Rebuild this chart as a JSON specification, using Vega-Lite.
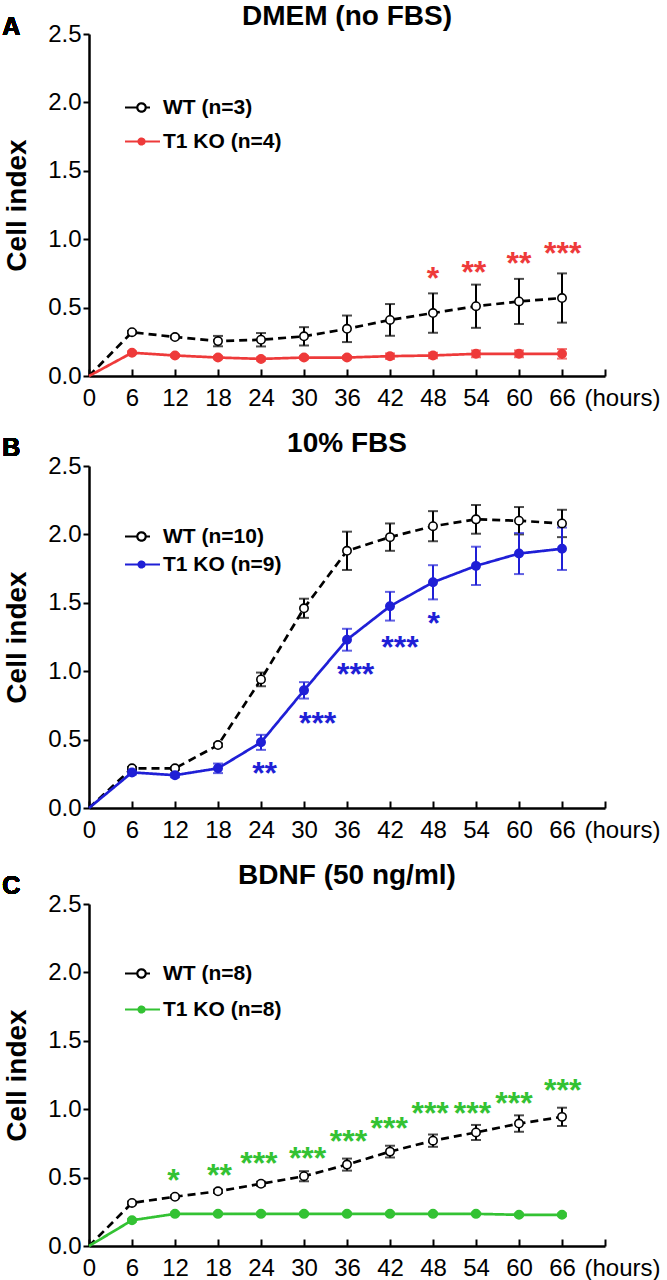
{
  "$schema": "https://vega.github.io/schema/vega-lite/v6.json",
  "padding": {"left": 2, "top": 3, "right": 2, "bottom": 2},
  "background": "white",
  "config": {
    "view": {"stroke": null},
    "axis": {
      "domainColor": "black", "domainWidth": 2.5, "tickColor": "black", "tickWidth": 2,
      "grid": false, "labelFont": "Liberation Sans", "labelFontSize": 24, "labelColor": "black",
      "labelFlush": false, "labelOverlap": false,
      "titleColor": "black"
    },
    "legend": {
      "orient": "none", "direction": "vertical", "title": null, "symbolSize": 400,
      "labelFont": "Liberation Sans", "labelFontWeight": "bold", "labelFontSize": 21, "labelColor": "black",
      "labelOffset": 10, "padding": 0, "symbolStrokeWidth": 2.2, "symbolOpacity": 1,
      "symbolFillColor": "white", "symbolDash": [1, 0]
    }
  },
  "datasets": {
    "A": [
      {"hour": 0, "series": "WT (n=3)", "mean": 0, "err": 0},
      {"hour": 6, "series": "WT (n=3)", "mean": 0.32, "err": 0.01},
      {"hour": 12, "series": "WT (n=3)", "mean": 0.285, "err": 0.01},
      {"hour": 18, "series": "WT (n=3)", "mean": 0.255, "err": 0.038},
      {"hour": 24, "series": "WT (n=3)", "mean": 0.265, "err": 0.049},
      {"hour": 30, "series": "WT (n=3)", "mean": 0.29, "err": 0.067},
      {"hour": 36, "series": "WT (n=3)", "mean": 0.345, "err": 0.097},
      {"hour": 42, "series": "WT (n=3)", "mean": 0.41, "err": 0.116},
      {"hour": 48, "series": "WT (n=3)", "mean": 0.46, "err": 0.144},
      {"hour": 54, "series": "WT (n=3)", "mean": 0.51, "err": 0.158},
      {"hour": 60, "series": "WT (n=3)", "mean": 0.545, "err": 0.165},
      {"hour": 66, "series": "WT (n=3)", "mean": 0.57, "err": 0.18},
      {"hour": 0, "series": "T1 KO (n=4)", "mean": 0, "err": 0},
      {"hour": 6, "series": "T1 KO (n=4)", "mean": 0.17, "err": 0.01},
      {"hour": 12, "series": "T1 KO (n=4)", "mean": 0.15, "err": 0.01},
      {"hour": 18, "series": "T1 KO (n=4)", "mean": 0.135, "err": 0.012},
      {"hour": 24, "series": "T1 KO (n=4)", "mean": 0.125, "err": 0.012},
      {"hour": 30, "series": "T1 KO (n=4)", "mean": 0.135, "err": 0.012},
      {"hour": 36, "series": "T1 KO (n=4)", "mean": 0.135, "err": 0.012},
      {"hour": 42, "series": "T1 KO (n=4)", "mean": 0.145, "err": 0.02},
      {"hour": 48, "series": "T1 KO (n=4)", "mean": 0.15, "err": 0.02},
      {"hour": 54, "series": "T1 KO (n=4)", "mean": 0.162, "err": 0.025},
      {"hour": 60, "series": "T1 KO (n=4)", "mean": 0.162, "err": 0.025},
      {"hour": 66, "series": "T1 KO (n=4)", "mean": 0.162, "err": 0.035}
    ],
    "B": [
      {"hour": 0, "series": "WT (n=10)", "mean": 0, "err": 0},
      {"hour": 6, "series": "WT (n=10)", "mean": 0.29, "err": 0.01},
      {"hour": 12, "series": "WT (n=10)", "mean": 0.29, "err": 0.01},
      {"hour": 18, "series": "WT (n=10)", "mean": 0.46, "err": 0.012},
      {"hour": 24, "series": "WT (n=10)", "mean": 0.94, "err": 0.05},
      {"hour": 30, "series": "WT (n=10)", "mean": 1.46, "err": 0.07},
      {"hour": 36, "series": "WT (n=10)", "mean": 1.88, "err": 0.14},
      {"hour": 42, "series": "WT (n=10)", "mean": 1.98, "err": 0.1},
      {"hour": 48, "series": "WT (n=10)", "mean": 2.06, "err": 0.11},
      {"hour": 54, "series": "WT (n=10)", "mean": 2.11, "err": 0.105},
      {"hour": 60, "series": "WT (n=10)", "mean": 2.1, "err": 0.1},
      {"hour": 66, "series": "WT (n=10)", "mean": 2.08, "err": 0.1},
      {"hour": 0, "series": "T1 KO (n=9)", "mean": 0, "err": 0},
      {"hour": 6, "series": "T1 KO (n=9)", "mean": 0.26, "err": 0.015},
      {"hour": 12, "series": "T1 KO (n=9)", "mean": 0.24, "err": 0.015},
      {"hour": 18, "series": "T1 KO (n=9)", "mean": 0.29, "err": 0.035},
      {"hour": 24, "series": "T1 KO (n=9)", "mean": 0.48, "err": 0.055},
      {"hour": 30, "series": "T1 KO (n=9)", "mean": 0.86, "err": 0.06},
      {"hour": 36, "series": "T1 KO (n=9)", "mean": 1.23, "err": 0.08},
      {"hour": 42, "series": "T1 KO (n=9)", "mean": 1.475, "err": 0.105},
      {"hour": 48, "series": "T1 KO (n=9)", "mean": 1.65, "err": 0.125},
      {"hour": 54, "series": "T1 KO (n=9)", "mean": 1.77, "err": 0.14},
      {"hour": 60, "series": "T1 KO (n=9)", "mean": 1.86, "err": 0.15},
      {"hour": 66, "series": "T1 KO (n=9)", "mean": 1.895, "err": 0.155}
    ],
    "C": [
      {"hour": 0, "series": "WT (n=8)", "mean": 0, "err": 0},
      {"hour": 6, "series": "WT (n=8)", "mean": 0.315, "err": 0.01},
      {"hour": 12, "series": "WT (n=8)", "mean": 0.36, "err": 0.01},
      {"hour": 18, "series": "WT (n=8)", "mean": 0.4, "err": 0.012},
      {"hour": 24, "series": "WT (n=8)", "mean": 0.455, "err": 0.015},
      {"hour": 30, "series": "WT (n=8)", "mean": 0.51, "err": 0.037},
      {"hour": 36, "series": "WT (n=8)", "mean": 0.595, "err": 0.044},
      {"hour": 42, "series": "WT (n=8)", "mean": 0.69, "err": 0.043},
      {"hour": 48, "series": "WT (n=8)", "mean": 0.77, "err": 0.045},
      {"hour": 54, "series": "WT (n=8)", "mean": 0.83, "err": 0.055},
      {"hour": 60, "series": "WT (n=8)", "mean": 0.895, "err": 0.06},
      {"hour": 66, "series": "WT (n=8)", "mean": 0.944, "err": 0.067},
      {"hour": 0, "series": "T1 KO (n=8)", "mean": 0, "err": 0},
      {"hour": 6, "series": "T1 KO (n=8)", "mean": 0.188, "err": 0.01},
      {"hour": 12, "series": "T1 KO (n=8)", "mean": 0.235, "err": 0.01},
      {"hour": 18, "series": "T1 KO (n=8)", "mean": 0.235, "err": 0.01},
      {"hour": 24, "series": "T1 KO (n=8)", "mean": 0.235, "err": 0.01},
      {"hour": 30, "series": "T1 KO (n=8)", "mean": 0.235, "err": 0.01},
      {"hour": 36, "series": "T1 KO (n=8)", "mean": 0.235, "err": 0.01},
      {"hour": 42, "series": "T1 KO (n=8)", "mean": 0.235, "err": 0.01},
      {"hour": 48, "series": "T1 KO (n=8)", "mean": 0.235, "err": 0.01},
      {"hour": 54, "series": "T1 KO (n=8)", "mean": 0.235, "err": 0.01},
      {"hour": 60, "series": "T1 KO (n=8)", "mean": 0.228, "err": 0.01},
      {"hour": 66, "series": "T1 KO (n=8)", "mean": 0.228, "err": 0.01}
    ],
    "starsA": [
      {"hour": 48, "level": 0.77, "label": "*"},
      {"hour": 53.7, "level": 0.815, "label": "**"},
      {"hour": 60, "level": 0.876, "label": "**"},
      {"hour": 66.1, "level": 0.95, "label": "***"}
    ],
    "starsB": [
      {"hour": 24.5, "level": 0.31, "label": "**"},
      {"hour": 31.9, "level": 0.67, "label": "***"},
      {"hour": 37.2, "level": 1.03, "label": "***"},
      {"hour": 43.4, "level": 1.23, "label": "***"},
      {"hour": 48.1, "level": 1.4, "label": "*"}
    ],
    "starsC": [
      {"hour": 11.8, "level": 0.536, "label": "*"},
      {"hour": 18.2, "level": 0.568, "label": "**"},
      {"hour": 23.7, "level": 0.658, "label": "***"},
      {"hour": 30.5, "level": 0.695, "label": "***"},
      {"hour": 36.2, "level": 0.817, "label": "***"},
      {"hour": 41.9, "level": 0.914, "label": "***"},
      {"hour": 47.6, "level": 1.024, "label": "***"},
      {"hour": 53.5, "level": 1.024, "label": "***"},
      {"hour": 59.3, "level": 1.097, "label": "***"},
      {"hour": 66.1, "level": 1.19, "label": "***"}
    ]
  },
  "vconcat": [
    {
      "width": 516, "height": 342,
      "title": {"text": "DMEM (no FBS)", "font": "Liberation Sans", "fontSize": 28, "fontWeight": "bold", "color": "black", "anchor": "middle", "frame": "group", "offset": -16},
      "data": {"name": "A"},
      "layer": [
        {
          "mark": {"type": "line", "strokeWidth": 2.7},
          "encoding": {
            "x": {"field": "hour", "type": "quantitative", "scale": {"domain": [0, 72], "nice": false},
              "axis": {"values": [0, 6, 12, 18, 24, 30, 36, 42, 48, 54, 60, 66, 72], "labelExpr": "datum.value == 72 ? '' : datum.label", "tickSize": -7, "labelPadding": 36, "labelBaseline": "alphabetic", "title": "(hours)", "titleFont": "Liberation Sans", "titleFontSize": 24, "titleFontWeight": "normal", "titleAlign": "left", "titleBaseline": "alphabetic", "titleX": 495, "titleY": 29}},
            "y": {"field": "mean", "type": "quantitative", "title": "Cell index", "scale": {"domain": [0, 2.5], "nice": false},
              "axis": {"values": [0, 0.5, 1, 1.5, 2, 2.5], "format": ".1f", "tickSize": 6, "labelPadding": 2, "titleFont": "Liberation Sans", "titleFontSize": 28, "titleFontWeight": "bold", "titlePadding": 16}},
            "color": {"field": "series", "type": "nominal", "scale": {"domain": ["WT (n=3)", "T1 KO (n=4)"], "range": ["black", "#ee3a3a"]},
              "legend": {"legendX": 41, "legendY": 62, "rowPadding": 12,
                "encode": {"symbols": {"update": {
                  "shape": {"signal": "indexof(datum.value, 'WT') == 0 ? 'M-1.65,0L-0.45,0M0.45,0L0.85,0M-0.42,0A0.42,0.42,0,1,1,0.42,0A0.42,0.42,0,1,1,-0.42,0Z' : 'M-1.65,0L1.85,0M-0.3,0A0.3,0.3,0,1,1,0.3,0A0.3,0.3,0,1,1,-0.3,0M-0.12,0A0.12,0.12,0,1,1,0.12,0A0.12,0.12,0,1,1,-0.12,0'"},
                  "fill": {"value": "white"},
                  "strokeDash": {"value": [1, 0]}
                }}}}},
            "strokeDash": {"condition": {"test": "indexof(datum.series, 'WT') == 0", "value": [8, 5]}, "value": [1, 0]}
          }
        },
        {
          "transform": [{"filter": "datum.hour > 0"}],
          "mark": {"type": "errorbar", "thickness": 2, "ticks": {"size": 10}},
          "encoding": {
            "x": {"field": "hour", "type": "quantitative"},
            "y": {"field": "mean", "type": "quantitative", "title": "Cell index"},
            "yError": {"field": "err"},
            "color": {"condition": {"test": "indexof(datum.series, 'WT') == 0", "value": "black"}, "value": "#ee3a3a"}
          }
        },
        {
          "transform": [{"filter": "datum.hour > 0"}],
          "mark": {"type": "point", "shape": "circle", "filled": true, "size": 70, "strokeWidth": 1.6, "opacity": 1},
          "encoding": {
            "x": {"field": "hour", "type": "quantitative"},
            "y": {"field": "mean", "type": "quantitative", "title": "Cell index"},
            "fill": {"condition": {"test": "indexof(datum.series, 'WT') == 0", "value": "white"}, "value": "#ee3a3a"},
            "stroke": {"condition": {"test": "indexof(datum.series, 'WT') == 0", "value": "black"}, "value": "#ee3a3a"}
          }
        },
        {
          "data": {"name": "starsA"},
          "mark": {"type": "text", "font": "Liberation Sans", "fontWeight": "bold", "fontSize": 32, "color": "#ee3a3a", "dy": 18, "baseline": "alphabetic", "align": "center"},
          "encoding": {
            "x": {"field": "hour", "type": "quantitative"},
            "y": {"field": "level", "type": "quantitative", "title": "Cell index"},
            "text": {"field": "label"}
          }
        },
        {
          "mark": {"type": "text", "text": "A", "font": "Liberation Sans", "fontWeight": "bold", "fontSize": 25, "color": "black", "align": "center", "baseline": "alphabetic"},
          "encoding": {"x": {"datum": -10.85}, "y": {"datum": 2.49}}
        }
      ]
    },
    {
      "width": 516, "height": 342,
      "title": {"text": "10% FBS", "font": "Liberation Sans", "fontSize": 28, "fontWeight": "bold", "color": "black", "anchor": "middle", "frame": "group", "offset": -22},
      "data": {"name": "B"},
      "layer": [
        {
          "mark": {"type": "line", "strokeWidth": 2.7},
          "encoding": {
            "x": {"field": "hour", "type": "quantitative", "scale": {"domain": [0, 72], "nice": false},
              "axis": {"values": [0, 6, 12, 18, 24, 30, 36, 42, 48, 54, 60, 66, 72], "labelExpr": "datum.value == 72 ? '' : datum.label", "tickSize": -7, "labelPadding": 36, "labelBaseline": "alphabetic", "title": "(hours)", "titleFont": "Liberation Sans", "titleFontSize": 24, "titleFontWeight": "normal", "titleAlign": "left", "titleBaseline": "alphabetic", "titleX": 495, "titleY": 29}},
            "y": {"field": "mean", "type": "quantitative", "title": "Cell index", "scale": {"domain": [0, 2.5], "nice": false},
              "axis": {"values": [0, 0.5, 1, 1.5, 2, 2.5], "format": ".1f", "tickSize": 6, "labelPadding": 2, "titleFont": "Liberation Sans", "titleFontSize": 28, "titleFontWeight": "bold", "titlePadding": 16}},
            "color": {"field": "series", "type": "nominal", "scale": {"domain": ["WT (n=10)", "T1 KO (n=9)"], "range": ["black", "#1f1fd6"]},
              "legend": {"legendX": 41, "legendY": 59, "rowPadding": 6,
                "encode": {"symbols": {"update": {
                  "shape": {"signal": "indexof(datum.value, 'WT') == 0 ? 'M-1.65,0L-0.45,0M0.45,0L0.85,0M-0.42,0A0.42,0.42,0,1,1,0.42,0A0.42,0.42,0,1,1,-0.42,0Z' : 'M-1.65,0L1.85,0M-0.3,0A0.3,0.3,0,1,1,0.3,0A0.3,0.3,0,1,1,-0.3,0M-0.12,0A0.12,0.12,0,1,1,0.12,0A0.12,0.12,0,1,1,-0.12,0'"},
                  "fill": {"value": "white"},
                  "strokeDash": {"value": [1, 0]}
                }}}}},
            "strokeDash": {"condition": {"test": "indexof(datum.series, 'WT') == 0", "value": [8, 5]}, "value": [1, 0]}
          }
        },
        {
          "transform": [{"filter": "datum.hour > 0"}],
          "mark": {"type": "errorbar", "thickness": 2, "ticks": {"size": 10}},
          "encoding": {
            "x": {"field": "hour", "type": "quantitative"},
            "y": {"field": "mean", "type": "quantitative", "title": "Cell index"},
            "yError": {"field": "err"},
            "color": {"condition": {"test": "indexof(datum.series, 'WT') == 0", "value": "black"}, "value": "#1f1fd6"}
          }
        },
        {
          "transform": [{"filter": "datum.hour > 0"}],
          "mark": {"type": "point", "shape": "circle", "filled": true, "size": 70, "strokeWidth": 1.6, "opacity": 1},
          "encoding": {
            "x": {"field": "hour", "type": "quantitative"},
            "y": {"field": "mean", "type": "quantitative", "title": "Cell index"},
            "fill": {"condition": {"test": "indexof(datum.series, 'WT') == 0", "value": "white"}, "value": "#1f1fd6"},
            "stroke": {"condition": {"test": "indexof(datum.series, 'WT') == 0", "value": "black"}, "value": "#1f1fd6"}
          }
        },
        {
          "data": {"name": "starsB"},
          "mark": {"type": "text", "font": "Liberation Sans", "fontWeight": "bold", "fontSize": 32, "color": "#1f1fd6", "dy": 18, "baseline": "alphabetic", "align": "center"},
          "encoding": {
            "x": {"field": "hour", "type": "quantitative"},
            "y": {"field": "level", "type": "quantitative", "title": "Cell index"},
            "text": {"field": "label"}
          }
        },
        {
          "mark": {"type": "text", "text": "B", "font": "Liberation Sans", "fontWeight": "bold", "fontSize": 25, "color": "black", "align": "center", "baseline": "alphabetic"},
          "encoding": {"x": {"datum": -10.85}, "y": {"datum": 2.573}}
        }
      ]
    },
    {
      "width": 516, "height": 342,
      "title": {"text": "BDNF (50 ng/ml)", "font": "Liberation Sans", "fontSize": 28, "fontWeight": "bold", "color": "black", "anchor": "middle", "frame": "group", "offset": -16},
      "data": {"name": "C"},
      "layer": [
        {
          "mark": {"type": "line", "strokeWidth": 2.7},
          "encoding": {
            "x": {"field": "hour", "type": "quantitative", "scale": {"domain": [0, 72], "nice": false},
              "axis": {"values": [0, 6, 12, 18, 24, 30, 36, 42, 48, 54, 60, 66, 72], "labelExpr": "datum.value == 72 ? '' : datum.label", "tickSize": -7, "labelPadding": 36, "labelBaseline": "alphabetic", "title": "(hours)", "titleFont": "Liberation Sans", "titleFontSize": 24, "titleFontWeight": "normal", "titleAlign": "left", "titleBaseline": "alphabetic", "titleX": 495, "titleY": 29}},
            "y": {"field": "mean", "type": "quantitative", "title": "Cell index", "scale": {"domain": [0, 2.5], "nice": false},
              "axis": {"values": [0, 0.5, 1, 1.5, 2, 2.5], "format": ".1f", "tickSize": 6, "labelPadding": 2, "titleFont": "Liberation Sans", "titleFontSize": 28, "titleFontWeight": "bold", "titlePadding": 16}},
            "color": {"field": "series", "type": "nominal", "scale": {"domain": ["WT (n=8)", "T1 KO (n=8)"], "range": ["black", "#33c233"]},
              "legend": {"legendX": 41, "legendY": 58, "rowPadding": 14,
                "encode": {"symbols": {"update": {
                  "shape": {"signal": "indexof(datum.value, 'WT') == 0 ? 'M-1.65,0L-0.45,0M0.45,0L0.85,0M-0.42,0A0.42,0.42,0,1,1,0.42,0A0.42,0.42,0,1,1,-0.42,0Z' : 'M-1.65,0L1.85,0M-0.3,0A0.3,0.3,0,1,1,0.3,0A0.3,0.3,0,1,1,-0.3,0M-0.12,0A0.12,0.12,0,1,1,0.12,0A0.12,0.12,0,1,1,-0.12,0'"},
                  "fill": {"value": "white"},
                  "strokeDash": {"value": [1, 0]}
                }}}}},
            "strokeDash": {"condition": {"test": "indexof(datum.series, 'WT') == 0", "value": [8, 5]}, "value": [1, 0]}
          }
        },
        {
          "transform": [{"filter": "datum.hour > 0"}],
          "mark": {"type": "errorbar", "thickness": 2, "ticks": {"size": 10}},
          "encoding": {
            "x": {"field": "hour", "type": "quantitative"},
            "y": {"field": "mean", "type": "quantitative", "title": "Cell index"},
            "yError": {"field": "err"},
            "color": {"condition": {"test": "indexof(datum.series, 'WT') == 0", "value": "black"}, "value": "#33c233"}
          }
        },
        {
          "transform": [{"filter": "datum.hour > 0"}],
          "mark": {"type": "point", "shape": "circle", "filled": true, "size": 70, "strokeWidth": 1.6, "opacity": 1},
          "encoding": {
            "x": {"field": "hour", "type": "quantitative"},
            "y": {"field": "mean", "type": "quantitative", "title": "Cell index"},
            "fill": {"condition": {"test": "indexof(datum.series, 'WT') == 0", "value": "white"}, "value": "#33c233"},
            "stroke": {"condition": {"test": "indexof(datum.series, 'WT') == 0", "value": "black"}, "value": "#33c233"}
          }
        },
        {
          "data": {"name": "starsC"},
          "mark": {"type": "text", "font": "Liberation Sans", "fontWeight": "bold", "fontSize": 32, "color": "#33c233", "dy": 18, "baseline": "alphabetic", "align": "center"},
          "encoding": {
            "x": {"field": "hour", "type": "quantitative"},
            "y": {"field": "level", "type": "quantitative", "title": "Cell index"},
            "text": {"field": "label"}
          }
        },
        {
          "mark": {"type": "text", "text": "C", "font": "Liberation Sans", "fontWeight": "bold", "fontSize": 25, "color": "black", "align": "center", "baseline": "alphabetic"},
          "encoding": {"x": {"datum": -10.85}, "y": {"datum": 2.573}}
        }
      ]
    }
  ],
  "spacing": 20,
  "resolve": {
    "scale": {"color": "independent", "x": "independent", "y": "independent"},
    "legend": {"color": "independent"}
  }
}
